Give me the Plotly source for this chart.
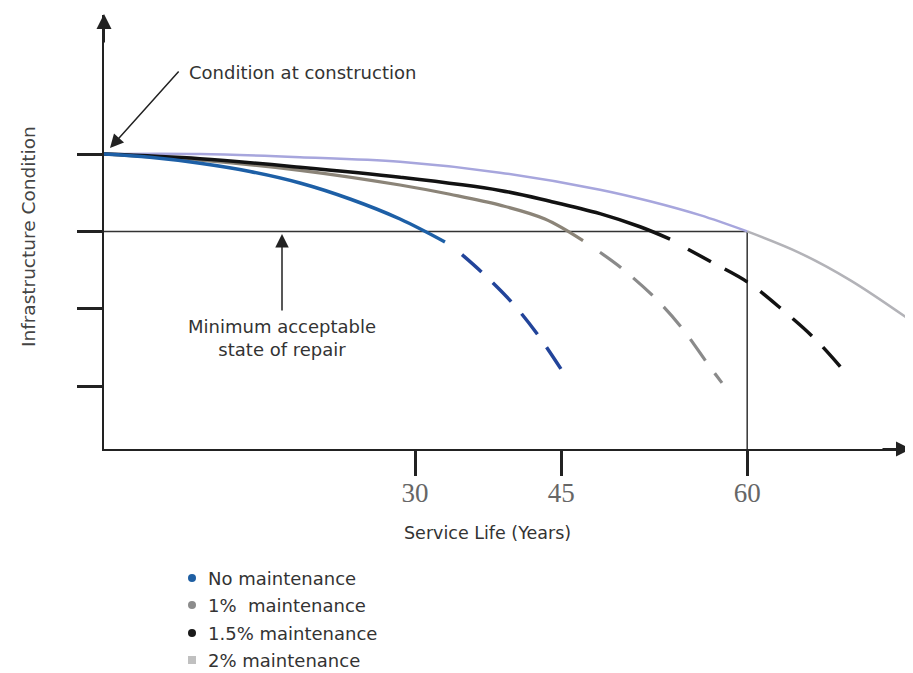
import plotly.graph_objects as go

# ---------------- data ----------------
# x: service life (years, axis scale), y: condition index (4 = at construction, 3 = minimum acceptable)
no_maint_x = [1.9, 6.05, 10.57, 15.09, 19.60, 24.12, 28.64, 32.70]
no_maint_y = [4.0, 3.958, 3.881, 3.775, 3.626, 3.419, 3.160, 2.863]
no_maint_dash_x = [34.24, 36.04, 38.75, 41.10, 43.36]
no_maint_dash_y = [2.70, 2.47, 2.08, 1.66, 1.18]

m1_x = [1.9, 10.57, 19.60, 28.64, 33.15, 37.67, 41.73, 45.17]
m1_y = [4.0, 3.92, 3.79, 3.60, 3.48, 3.34, 3.16, 2.88]
m1_dash_x = [46.70, 48.69, 51.67, 54.11, 56.37, 57.72]
m1_dash_y = [2.73, 2.52, 2.14, 1.75, 1.30, 1.04]

m15_x = [1.9, 10.57, 19.60, 28.64, 37.67, 42.19, 46.70, 50.32, 53.03]
m15_y = [4.0, 3.94, 3.83, 3.70, 3.53, 3.39, 3.23, 3.06, 2.90]
m15_dash_x = [54.65, 56.82, 60.07, 63.23, 66.12, 68.65]
m15_dash_y = [2.77, 2.60, 2.34, 1.98, 1.61, 1.21]

m2_x = [1.9, 10.57, 19.60, 28.64, 37.67, 46.70, 51.22, 55.74, 60.0]
m2_y = [4.0, 4.0, 3.96, 3.90, 3.76, 3.54, 3.39, 3.21, 3.0]
m2_ext_x = [60.0, 64.77, 69.29, 74.44]
m2_ext_y = [3.0, 2.72, 2.37, 1.88]

min_acceptable = 3.0
design_life = 60.0
axis_start_x = 1.9
axis_start_y = 0.185

tick_positions = [30.0, 43.2, 60.0]
tick_labels = ["30", "45", "60"]
condition_ticks = [1, 2, 3, 4]

legend_names = ["No maintenance", "1%  maintenance", "1.5% maintenance", "2% maintenance"]
legend_colors = ["#1f5fa3", "#8c8c8c", "#1a1a1a", "#c0c0c0"]
legend_symbols = ["circle", "circle", "circle", "rect"]

# ---------------- figure ----------------
# the page body has an 8px margin, so the figure is placed 8px in from the window corner
OFF = 8
W, H = 913 - OFF, 673 - OFF
PLOT_L, PLOT_R, PLOT_T, PLOT_B = 104, 912, 15, 449      # plot area in window pixels
ML, MR, MT = PLOT_L - OFF, (W + OFF) - PLOT_R, PLOT_T - OFF
MB = (H + OFF) - PLOT_B
PW, PH = W - ML - MR, H - MT - MB


def px(xpix):
    return (xpix - PLOT_L) / PW


def py(ypix):
    return (PLOT_B - ypix) / PH


fig = go.Figure()

# reference lines
fig.add_trace(go.Scatter(x=[axis_start_x, design_life], y=[min_acceptable, min_acceptable],
                         mode="lines", line=dict(color="#333333", width=1.5),
                         showlegend=False, hoverinfo="skip"))
fig.add_trace(go.Scatter(x=[design_life, design_life], y=[min_acceptable, axis_start_y],
                         mode="lines", line=dict(color="#333333", width=1.5),
                         showlegend=False, hoverinfo="skip"))

DASH = "26px,16px"
curves = [
    (m2_ext_x, m2_ext_y, "#b3b3b8", "solid", 2.5),
    (m2_x, m2_y, "#a7a6dd", "solid", 2.5),
    (m1_x, m1_y, "#8b8478", "solid", 3.2),
    (m1_dash_x, m1_dash_y, "#8a8a8a", DASH, 3.2),
    (m15_x, m15_y, "#121212", "solid", 3.5),
    (m15_dash_x, m15_dash_y, "#121212", DASH, 3.5),
    (no_maint_x, no_maint_y, "#1d5fa6", "solid", 3.5),
    (no_maint_dash_x, no_maint_dash_y, "#22449a", DASH, 3.5),
]
for xs, ys, col, dash, w in curves:
    fig.add_trace(go.Scatter(x=xs, y=ys, mode="lines",
                             line=dict(color=col, width=w, dash=dash, shape="spline", smoothing=1.0),
                             showlegend=False, hoverinfo="skip"))

FONT = "'DejaVu Sans', Verdana, sans-serif"
TXT = "#333333"
annotations = [
    dict(text="Condition at construction", x=px(187), y=py(72), xanchor="left", yanchor="middle",
         showarrow=False, font=dict(family=FONT, size=18, color=TXT)),
    dict(text="", x=px(110), y=py(148), ax=70, ay=-78, showarrow=True, arrowhead=2,
         arrowsize=1.8, arrowwidth=1.5, arrowcolor="#222222", standoff=0),
    dict(text="Minimum acceptable<br>state of repair", x=px(282), y=py(338), xanchor="center",
         yanchor="middle", align="center", showarrow=False,
         font=dict(family=FONT, size=18, color=TXT)),
    dict(text="", x=px(282), y=py(234), ax=0, ay=78, showarrow=True, arrowhead=2,
         arrowsize=1.8, arrowwidth=1.5, arrowcolor="#222222", standoff=0),
    dict(text="Infrastructure Condition", x=px(28), y=py(237), textangle=-90, showarrow=False,
         xanchor="center", yanchor="middle", font=dict(family=FONT, size=18.5, color="#444444")),
    dict(text="Service Life (Years)", x=px(487), y=py(533), showarrow=False,
         xanchor="center", yanchor="middle", font=dict(family=FONT, size=17.5, color=TXT)),
    dict(text="", x=px(104), y=py(14), ax=0, ay=30, showarrow=True, arrowhead=2,
         arrowsize=1.5, arrowwidth=2, arrowcolor="#222222", standoff=0),
    dict(text="", x=px(911), y=py(449), ax=-30, ay=0, showarrow=True, arrowhead=2,
         arrowsize=1.5, arrowwidth=2, arrowcolor="#222222", standoff=0),
]

# manual legend (markers + labels)
shapes = []
legend_rows = [578, 605, 633, 660]
for name, col, sym, row in zip(legend_names, legend_colors, legend_symbols, legend_rows):
    shapes.append(dict(type="circle" if sym == "circle" else "rect",
                       xref="paper", yref="paper", xsizemode="pixel", ysizemode="pixel",
                       xanchor=px(192), yanchor=py(row), x0=-4, x1=4, y0=-4, y1=4,
                       fillcolor=col, line=dict(width=0)))
    annotations.append(dict(text=name, x=px(206), y=py(row), xanchor="left", yanchor="middle",
                            showarrow=False, font=dict(family=FONT, size=18, color=TXT)))

for a in annotations:
    a.setdefault("xref", "paper")
    a.setdefault("yref", "paper")

# x-axis scale: 11.07 px per year with year 0 at window x=83
x_hi = (PLOT_R - 83) / 11.07
y_hi = (463.3 - PLOT_T) / 77.3

fig.update_layout(
    width=W, height=H, autosize=False,
    margin=dict(l=ML, r=MR, t=MT, b=MB, autoexpand=False),
    paper_bgcolor="white", plot_bgcolor="white",
    annotations=annotations, shapes=shapes,
    showlegend=False,
    xaxis=dict(range=[axis_start_x, x_hi], showgrid=False, zeroline=False,
               showline=True, linecolor="#222222", linewidth=2,
               ticks="outside", ticklen=25, tickwidth=3, tickcolor="#222222",
               tickvals=tick_positions, ticktext=tick_labels, ticklabelstandoff=-6,
               tickfont=dict(family="'Liberation Serif', serif", size=27, color="#666666")),
    yaxis=dict(range=[axis_start_y, y_hi], showgrid=False, zeroline=False,
               showline=True, linecolor="#222222", linewidth=2,
               ticks="outside", ticklen=25, tickwidth=3, tickcolor="#222222",
               tickvals=condition_ticks, showticklabels=False),
)

fig.write_html("out.html")
